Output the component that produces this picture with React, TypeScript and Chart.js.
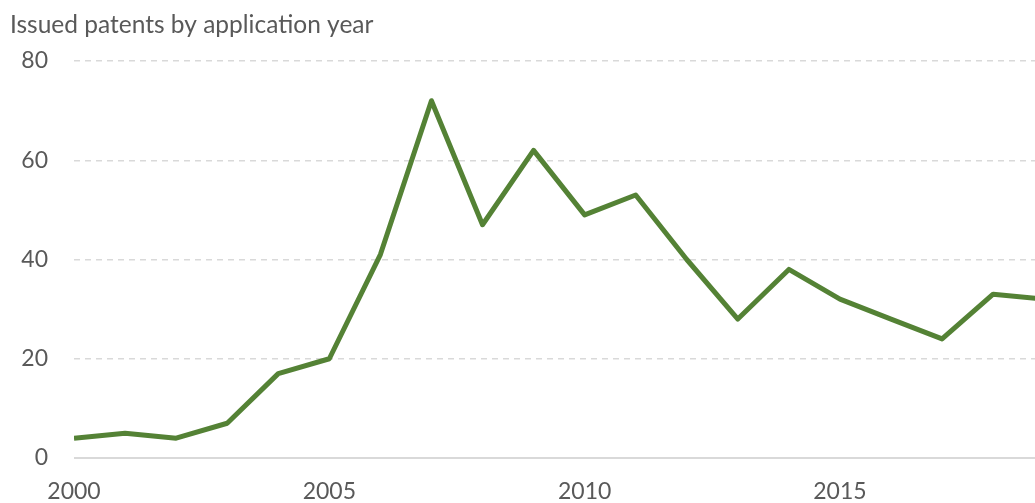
import React, { useEffect, useRef } from "react";
import { Chart, registerables } from "chart.js";

Chart.register(...registerables);

const title = "Issued patents by application year";
const years = [2000, 2001, 2002, 2003, 2004, 2005, 2006, 2007, 2008, 2009, 2010, 2011, 2012, 2013, 2014, 2015, 2016, 2017, 2018, 2019];
const patents = [4, 5, 4, 7, 17, 20, 41, 72, 47, 62, 49, 53, 40, 28, 38, 32, 28, 24, 33, 32];
const xTicks = [2000, 2005, 2010, 2015];
const yTicks = [0, 20, 40, 60, 80];

const FONT = "Lato, 'Open Sans', sans-serif";
const TEXT = "#595959";

export default function App() {
  const ref = useRef<HTMLCanvasElement | null>(null);
  useEffect(() => {
    if (!ref.current) return;
    const titlePlugin = {
      id: "leftTitle",
      afterDraw(chart: any) {
        const ctx = chart.ctx;
        ctx.save();
        ctx.font = `24.5px ${FONT}`;
        ctx.fillStyle = TEXT;
        ctx.textAlign = "left";
        ctx.textBaseline = "alphabetic";
        ctx.fillText(title, 10, 33);
        ctx.restore();
      },
    };
    const chart = new Chart(ref.current, {
      type: "line",
      data: {
        datasets: [
          {
            data: years.map((y, i) => ({ x: y, y: patents[i] })),
            borderColor: "#548235",
            borderWidth: 5,
            pointRadius: 0,
            tension: 0,
            fill: false,
            borderJoinStyle: "round",
            borderCapStyle: "butt",
          },
        ],
      },
      options: {
        animation: false,
        responsive: true,
        maintainAspectRatio: false,
        layout: { padding: { top: 61, left: 0, right: 0, bottom: 0 } },
        plugins: { legend: { display: false }, tooltip: { enabled: false }, title: { display: false } },
        scales: {
          x: {
            type: "linear",
            min: 2000,
            max: 2018.82,
            afterBuildTicks: (scale: any) => {
              scale.ticks = xTicks.map((v) => ({ value: v }));
            },
            afterFit: (scale: any) => {
              scale.height = 45;
            },
            grid: { display: false, drawTicks: false },
            border: { display: false },
            ticks: {
              color: TEXT,
              font: { family: FONT, size: 23 },
              padding: 20,
              maxRotation: 0,
              callback: (v: any) => String(v),
            },
          },
          y: {
            min: 0,
            max: 80,
            afterBuildTicks: (scale: any) => {
              scale.ticks = yTicks.map((v) => ({ value: v }));
            },
            afterFit: (scale: any) => {
              scale.width = 74;
            },
            grid: {
              drawTicks: false,
              color: "#d9d9d9",
              lineWidth: (ctx: any) => (ctx.tick && ctx.tick.value === 0 ? 2 : 1.5),
            },
            border: {
              display: false,
              dash: (ctx: any) => (ctx.tick && ctx.tick.value === 0 ? [] : [6, 5]),
            },
            ticks: {
              color: TEXT,
              font: { family: FONT, size: 23 },
              padding: 26,
            },
          },
        },
      },
      plugins: [titlePlugin],
    } as any);
    return () => chart.destroy();
  }, []);
  return (
    <div style={{ position: "fixed", left: 0, top: 0, width: 1035, height: 503, background: "#fff" }}>
      <canvas ref={ref} />
    </div>
  );
}
